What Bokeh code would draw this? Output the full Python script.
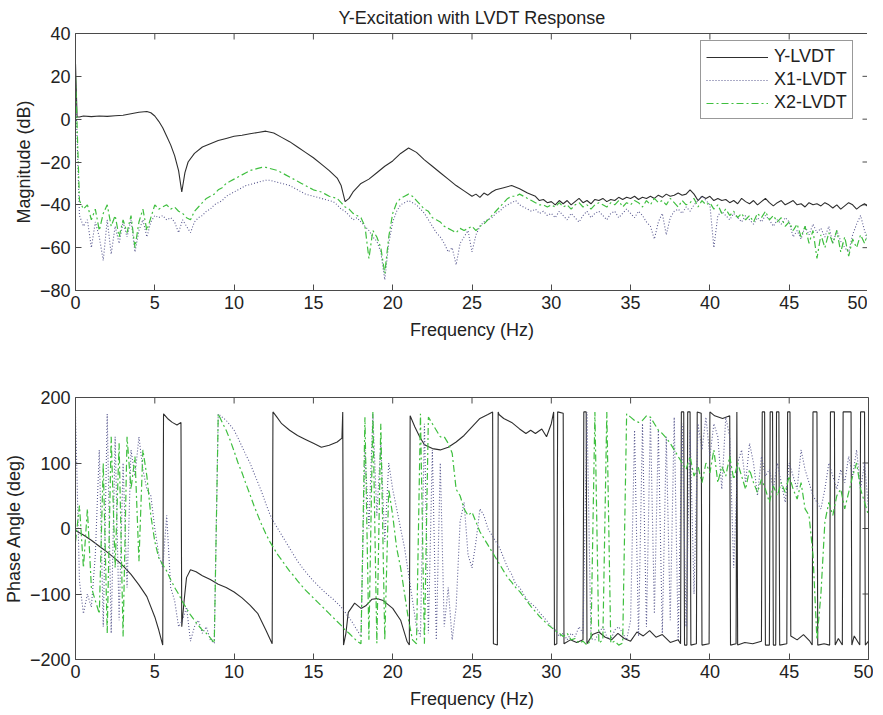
import math
from bokeh.plotting import figure
from bokeh.models import FixedTicker, Range1d
from bokeh.layouts import column
from bokeh.embed import file_html
from bokeh.resources import INLINE

FONT = "Liberation Sans"
TXT = "#222222"
AXC = "#4a4a4a"
STEP = 0.25

title_text = "Y-Excitation with LVDT Response"
series_names = ["Y-LVDT", "X1-LVDT", "X2-LVDT"]
x_ticks = [0, 5, 10, 15, 20, 25, 30, 35, 40, 45, 50]
mag_ticks = [-80, -60, -40, -20, 0, 20, 40]
phase_ticks = [-200, -100, 0, 100, 200]

# ---------------- Magnitude (dB) ----------------
y_mag_f = [0, 0.1, 0.25, 0.5, 1, 1.5, 2, 2.5,
           3, 3.5, 4, 4.5, 4.75, 5, 5.25, 5.5,
           5.75, 6, 6.25, 6.5, 6.7, 6.9, 7.1, 7.5,
           8, 8.5, 9, 9.5, 10, 10.5, 11, 11.5,
           12, 12.5, 13, 13.5, 14, 14.5, 15, 15.5,
           16, 16.5, 16.75, 17, 17.25, 17.5, 18, 18.5,
           19, 19.5, 20, 20.5, 21, 21.5, 22, 22.5,
           23, 23.5, 24, 24.5, 25, 25.25, 25.5, 25.75,
           26, 26.25, 26.5, 27, 27.5, 28, 28.5, 29,
           29.25, 29.5, 29.75, 30, 30.25, 30.5, 30.75, 31,
           31.25, 31.5, 31.75, 32, 32.25, 32.5, 32.75, 33,
           33.25, 33.5, 33.75, 34, 34.25, 34.5, 34.75, 35,
           35.25, 35.5, 35.75, 36, 36.25, 36.5, 36.75, 37,
           37.25, 37.5, 37.75, 38, 38.25, 38.5, 38.75, 39,
           39.25, 39.5, 39.75, 40, 40.25, 40.5, 40.75, 41,
           41.25, 41.5, 41.75, 42, 42.25, 42.5, 42.75, 43,
           43.25, 43.5, 43.75, 44, 44.25, 44.5, 44.75, 45,
           45.25, 45.5, 45.75, 46, 46.25, 46.5, 46.75, 47,
           47.25, 47.5, 47.75, 48, 48.25, 48.5, 48.75, 49,
           49.25, 49.5, 49.75, 50]
y_mag = [26, 1, 1, 1.5, 1.2, 1.5, 1.3, 1.6,
         1.8, 2.5, 3.2, 3.6, 3, 1.5, -1, -4,
         -8, -12, -17, -24, -34, -25, -20, -16,
         -13, -11.5, -10, -9, -8, -7.5, -6.8, -6.2,
         -5.6, -6.5, -8.5, -10.5, -13, -15.5, -18, -21,
         -24, -27.5, -31, -38.5, -37, -34, -30, -28,
         -25, -22, -19.5, -16, -13.5, -15.5, -19, -22,
         -25, -28, -31, -33.5, -36, -35, -36.5, -34.5,
         -35.5, -34, -33, -32, -31, -32.5, -34.5, -36,
         -38, -37.5, -39, -38.5, -40, -38, -39.5, -38,
         -40, -38.5, -37, -39, -38, -39.5, -37.5, -38,
         -37, -38.5, -37.5, -38, -36.5, -37.5, -36.5, -37,
         -36, -37.5, -36.5, -37, -36, -37, -35.5, -36.5,
         -35, -36, -35.5, -34.5, -35.5, -35, -33, -35,
         -38, -36, -37, -36, -38, -37, -38, -37.5,
         -39, -38, -39.5, -37, -38.5, -39.5, -38, -40,
         -38.5, -37, -39, -40.5, -39, -38, -40, -39,
         -38, -40, -39.5, -41, -39, -40, -39.5, -40.5,
         -39, -40, -41.5, -40, -42, -40.5, -39, -40,
         -42, -40.5, -39.5, -41]

x1_mag = [15, -45, -50, -47,
          -60, -48, -55, -66,
          -47, -63, -50, -58,
          -48, -55, -47, -62,
          -52, -47, -55, -48,
          -45, -46, -45, -47,
          -46, -48, -53, -47,
          -50, -53, -48, -46,
          -45, -43, -42, -40,
          -39, -38, -36, -35,
          -34, -33, -32, -31,
          -30.5, -30, -29.5, -29,
          -28.5, -28.5, -29, -29.5,
          -30, -30.5, -31, -32,
          -33, -34, -35, -35.5,
          -36, -36.5, -37, -37.5,
          -38, -38.5, -40, -42,
          -43, -45, -47, -46,
          -48, -50, -52, -55,
          -57, -62, -75, -58,
          -48, -43, -40, -39,
          -38, -39, -40, -42,
          -44, -47, -50, -53,
          -55, -58, -62, -60,
          -68, -58, -55, -52,
          -62, -54, -50, -48,
          -47, -46, -44, -43,
          -41, -40, -39, -38,
          -40, -41, -42, -43,
          -42, -44, -43, -45,
          -44, -46, -43, -45,
          -47, -44, -46, -48,
          -45, -43, -46, -44,
          -43, -45, -47, -44,
          -43, -46, -44, -42,
          -44, -46, -43, -45,
          -48, -50, -56, -48,
          -44, -54, -46, -43,
          -42, -44, -41, -43,
          -40, -38, -36, -38,
          -40, -60, -45, -43,
          -45, -47, -44, -46,
          -48, -45, -47, -49,
          -46, -48, -45, -47,
          -50, -47, -49, -46,
          -48, -55, -52, -56,
          -50, -54, -49, -53,
          -51, -55, -50, -58,
          -52, -57, -60, -62,
          -54, -49, -45, -52,
          -58]

x2_mag = [20, -38, -42, -40,
          -47, -42, -52, -44,
          -40, -50, -45, -55,
          -47, -53, -45, -60,
          -48, -42, -52, -46,
          -40, -42, -41, -40,
          -42, -41, -43, -44,
          -46, -47, -43, -41,
          -39, -37, -36, -35,
          -33, -32, -30, -29,
          -28, -27, -26, -25,
          -24, -23.5, -23, -22.5,
          -22.5, -23, -23.5, -24,
          -25, -26, -27, -28,
          -29, -30, -31, -32,
          -33, -33.5, -34, -35,
          -36, -36.5, -37, -39,
          -41, -42, -44, -45,
          -46, -50, -65, -52,
          -55, -60, -72, -55,
          -44, -39, -37, -36,
          -35, -36, -38, -40,
          -42, -43, -46, -47,
          -48, -50, -51, -52,
          -53, -51, -52, -51,
          -50, -52, -50, -49,
          -47, -45, -43, -41,
          -39, -37, -36, -36,
          -35, -36, -37, -38,
          -39, -40, -40, -41,
          -40, -41, -39, -41,
          -40, -42, -40, -39,
          -41, -40, -42, -40,
          -39, -40, -41, -39,
          -40, -38, -41, -39,
          -40, -38, -39, -41,
          -38, -40, -37, -39,
          -38, -40, -37, -39,
          -41, -38, -40, -39,
          -37, -41, -38, -40,
          -39, -42, -40, -44,
          -42, -45, -43, -46,
          -44, -47, -45, -48,
          -44, -46, -43, -47,
          -45, -48, -46, -50,
          -48, -52, -49, -55,
          -50, -58, -52, -65,
          -54, -60, -53, -58,
          -52, -62, -55, -64,
          -56, -60, -54, -58,
          -52]

# ---------------- Phase angle (deg) ----------------
y_ph_f = [0, 0.5, 1, 1.5, 2, 2.5, 3, 3.5,
          4, 4.5, 5, 5.25, 5.5, 5.55, 5.8, 6.1,
          6.4, 6.65, 6.7, 6.85, 7.0, 7.25, 7.6, 8.0,
          8.5, 9.0, 9.5, 10, 10.5, 11, 11.5, 12,
          12.4, 12.45, 12.7, 13, 13.5, 14, 14.5, 15,
          15.5, 16, 16.5, 16.8, 16.85, 16.9, 17.05, 17.2,
          17.6, 18.0, 18.3, 18.7, 19.0, 19.4, 20.0, 20.5,
          20.9, 21.05, 21.1, 21.4, 21.7, 22.0, 22.5, 23.0,
          23.5, 24.0, 24.5, 25.0, 25.5, 26.0, 26.3, 26.35,
          26.6, 26.65, 26.7, 27.0, 27.5, 28.0, 28.4, 28.7,
          29.0, 29.4, 29.7, 30.0, 30.15, 30.2, 30.35, 30.4,
          30.75, 30.8, 31.2, 31.6, 32.0, 32.05, 32.2, 32.25,
          32.6, 33.0, 33.4, 33.8, 34.2, 34.6, 35.0, 35.4,
          35.8, 36.2, 36.6, 37.0, 37.5, 38.0, 38.15, 38.2,
          38.35, 38.4, 38.55, 38.6, 38.75, 38.8, 39.15, 39.2,
          39.45, 39.5, 39.95, 40.0, 40.3, 40.8, 41.25, 41.3,
          41.65, 41.7, 41.75, 42.2, 42.7, 43.25, 43.3, 43.45,
          43.5, 43.75, 43.8, 43.95, 44.0, 44.15, 44.2, 44.35,
          44.4, 44.85, 44.9, 45.05, 45.1, 45.5, 45.9, 46.3,
          46.45, 46.5, 46.75, 46.8, 47.2, 47.55, 47.6, 47.85,
          47.9, 48.1, 48.35, 48.4, 48.9, 48.95, 49.1, 49.45,
          49.5, 49.75, 49.8, 50.0]
y_ph = [-3, -10, -18, -27, -36, -46, -57, -70,
        -86, -104, -135, -155, -178, 175, 168, 162,
        158, 162, -150, -110, -75, -63, -66, -72,
        -78, -85, -90, -97, -106, -117, -130, -155,
        -176, 178, 170, 160, 150, 142, 136, 130,
        124, 127, 132, 138, 178, -178, -160, -128,
        -114, -122, -118, -108, -107, -110, -122, -140,
        -172, -178, 172, 155, 140, 128, 122, 120,
        124, 132, 142, 155, 168, 174, 178, -176,
        -178, 178, 174, 168, 162, 152, 145, 150,
        145, 152, 140, 160, 178, -178, -176, 178,
        176, -176, -170, -174, -170, 178, 178, -176,
        -162, -158, -166, -170, -160, -168, -172, -158,
        -164, -156, -166, -162, -174, -170, -176, 178,
        178, -178, -178, 178, 178, -178, -176, 178,
        176, -178, -176, 178, 172, 168, 172, -178,
        -176, 178, -178, -174, -176, -172, 178, 178,
        -178, -178, 178, 178, -178, -178, 178, 178,
        -178, -176, 178, 178, -164, -170, -162, -172,
        -178, 178, 178, -178, -176, -178, 178, 178,
        -178, -168, -178, 178, 178, -178, -164, -178,
        178, 178, -178, -172]

x1_ph = [175, -80, -130, -100,
         -120, -40, 120, -150,
         175, -160, 140, -140,
         100, -90, 120, 80,
         140, 90, 60, 50,
         0, -40, -60, 20,
         -90, -110, -150, -140,
         -120, -172, -150, -140,
         -160, -150, -170, -175,
         175, 170, 165, 158,
         150, 138, 125, 112,
         100, 85, 70, 55,
         38, 22, 10, 0,
         -10, -20, -30, -40,
         -50, -58, -66, -73,
         -80, -86, -92, -98,
         -103, -108, -114, -120,
         -128, -136, -145, -155,
         -165, 120, 0, 175,
         20, 130, -20, 100,
         60, 30, 0, -30,
         -70, -110, -150, -165,
         160, -160, 120, -170,
         100, -150, -90, -170,
         -120, 10, 40, -40,
         -60, -20, 30, 20,
         0, -10, -20, -30,
         -45, -60, -70, -85,
         -90, -100, -110, -115,
         -120, -128, -135, -142,
         -150, -155, -165, -160,
         -170, -160, -165, -150,
         -160, 178, -168, -170,
         -160, -150, -165, -170,
         -155, -150, -160, -170,
         -140, 150, -165, 160,
         -150, 170, -130, 150,
         -160, 140, -140, 170,
         -170, 160, -150, 150,
         -100, 160, 120, 170,
         110, 160, 140, 60,
         170, 140, -60, 100,
         120, 70, 130, 100,
         50, 110, 80, 90,
         60, 100, 70, 40,
         100, 80, 60, 120,
         90, 70, 50, 40,
         30, 60, 100, 80,
         60, 90, 70, 110,
         80, 120, 60, 100,
         30]

x2_ph = [-20, 35, -60, 30,
         -90, -110, -130, 100,
         -160, 140, -60, 130,
         -165, 140, 60, 110,
         -50, 120, 80, 20,
         -20, -45, -55, -65,
         -78, -90, -100, -112,
         -122, -132, -140, -148,
         -155, -160, -167, -175,
         175, 162, 150, 135,
         118, 100, 85, 68,
         52, 35, 20, 5,
         -8, -20, -30, -40,
         -48, -57, -65, -72,
         -80, -87, -94, -100,
         -106, -112, -118, -124,
         -130, -136, -142, -148,
         -155, -160, -166, -172,
         -176, 170, -170, 178,
         -175, 160, -170, 60,
         20, -30, -60, -100,
         -140, -170, -176, 175,
         -176, 170, 160, 150,
         140, 140, 130, 115,
         60, 50, 30, 20,
         25, 10, -5, -15,
         -25, -35, -45, -55,
         -65, -75, -82, -90,
         -96, -104, -112, -120,
         -127, -134, -140, -146,
         -151, -156, -160, -165,
         -160, -170, -168, -175,
         -172, -178, -170, 178,
         -175, -170, 178, -175,
         -172, -178, -175, 175,
         170, 165, 162, 165,
         172, 170, 160, 150,
         145, 138, 130, 120,
         110, 100, 90, 110,
         80, 95, 70, 100,
         85, 120, 70, 95,
         80, 110, 75, 100,
         80, 60, 90, 70,
         55, 75, 60, 40,
         65, 50, 70, 55,
         80, 60, 45, 70,
         30, 20, -40, -170,
         -100, 10, 40, 20,
         50, 60, 30, 55,
         80, 100, 60, 40,
         20]

grid_f = [i * STEP for i in range(len(x1_mag))]

styles = [
    dict(line_color="#2e2e2e", line_width=1.1, line_dash="solid"),
    dict(line_color="#5a5a90", line_width=1.1, line_dash="1 2"),
    dict(line_color="#3fbf3f", line_width=1.2, line_dash="7 3 2 3"),
]


def style_axis(ax):
    ax.axis_line_color = AXC
    ax.major_tick_line_color = AXC
    ax.major_tick_in = 6
    ax.major_tick_out = 0
    ax.minor_tick_in = 0
    ax.minor_tick_out = 0
    ax.major_label_text_font = FONT
    ax.major_label_text_font_size = "18px"
    ax.major_label_text_color = TXT
    ax.major_label_standoff = 5
    ax.axis_label_text_font = FONT
    ax.axis_label_text_font_size = "18px"
    ax.axis_label_text_font_style = "normal"
    ax.axis_label_text_color = TXT


def make_fig(y0, y1, yticks, ylabel, fh, btop, bbot):
    p = figure(frame_width=793, frame_height=fh,
               x_range=Range1d(0, 50), y_range=Range1d(y0, y1),
               output_backend="svg", toolbar_location=None,
               min_border_left=69, min_border_right=5,
               min_border_top=btop, min_border_bottom=bbot,
               background_fill_color="white", border_fill_color="white")
    p.xgrid.visible = False
    p.ygrid.visible = False
    p.outline_line_color = AXC
    p.xaxis.ticker = FixedTicker(ticks=x_ticks)
    p.yaxis.ticker = FixedTicker(ticks=yticks)
    p.xaxis.axis_label = "Frequency (Hz)"
    p.yaxis.axis_label = ylabel
    style_axis(p.xaxis[0])
    style_axis(p.yaxis[0])
    p.yaxis.axis_label_standoff = 3
    p.xaxis.axis_label_standoff = 8
    # box ticks on the top and right edges (MATLAB style), pointing inward
    p.ray(x=x_ticks, y=[y1] * len(x_ticks), length=6, length_units="screen",
          angle=-math.pi / 2, line_color=AXC, line_width=1)
    p.ray(x=[50] * len(yticks), y=yticks, length=6, length_units="screen",
          angle=math.pi, line_color=AXC, line_width=1)
    return p


# top: magnitude
p1 = make_fig(-80, 40, mag_ticks, "Magnitude (dB)", 257, 33, 55)
p1.title.text = title_text
p1.title.align = "center"
p1.title.text_font = FONT
p1.title.text_font_size = "18px"
p1.title.text_font_style = "normal"
p1.title.text_color = TXT
p1.title.standoff = 11

mag_series = [(y_mag_f, y_mag), (grid_f, x1_mag), (grid_f, x2_mag)]
for (fx, fy), name, st in zip(mag_series, series_names, styles):
    p1.line(fx, fy, legend_label=name, **st)

lg = p1.legend[0]
lg.location = (632, 171)
lg.margin = 0
lg.padding = 5
lg.spacing = 2
lg.glyph_width = 62
lg.label_standoff = 6
lg.label_text_font = FONT
lg.label_text_font_size = "18px"
lg.label_text_color = TXT
lg.border_line_color = "#333333"
lg.border_line_width = 1
lg.background_fill_color = "white"
lg.background_fill_alpha = 1.0

# bottom: phase
p2 = make_fig(-200, 200, phase_ticks, "Phase Angle (deg)", 262, 52, 52)
phase_series = [(y_ph_f, y_ph), (grid_f, x1_ph), (grid_f, x2_ph)]
for (fx, fy), st in zip(phase_series, styles):
    p2.line(fx, fy, **st)

layout = column(p1, p2, spacing=0)
open("out.html", "w").write(file_html(layout, INLINE))
